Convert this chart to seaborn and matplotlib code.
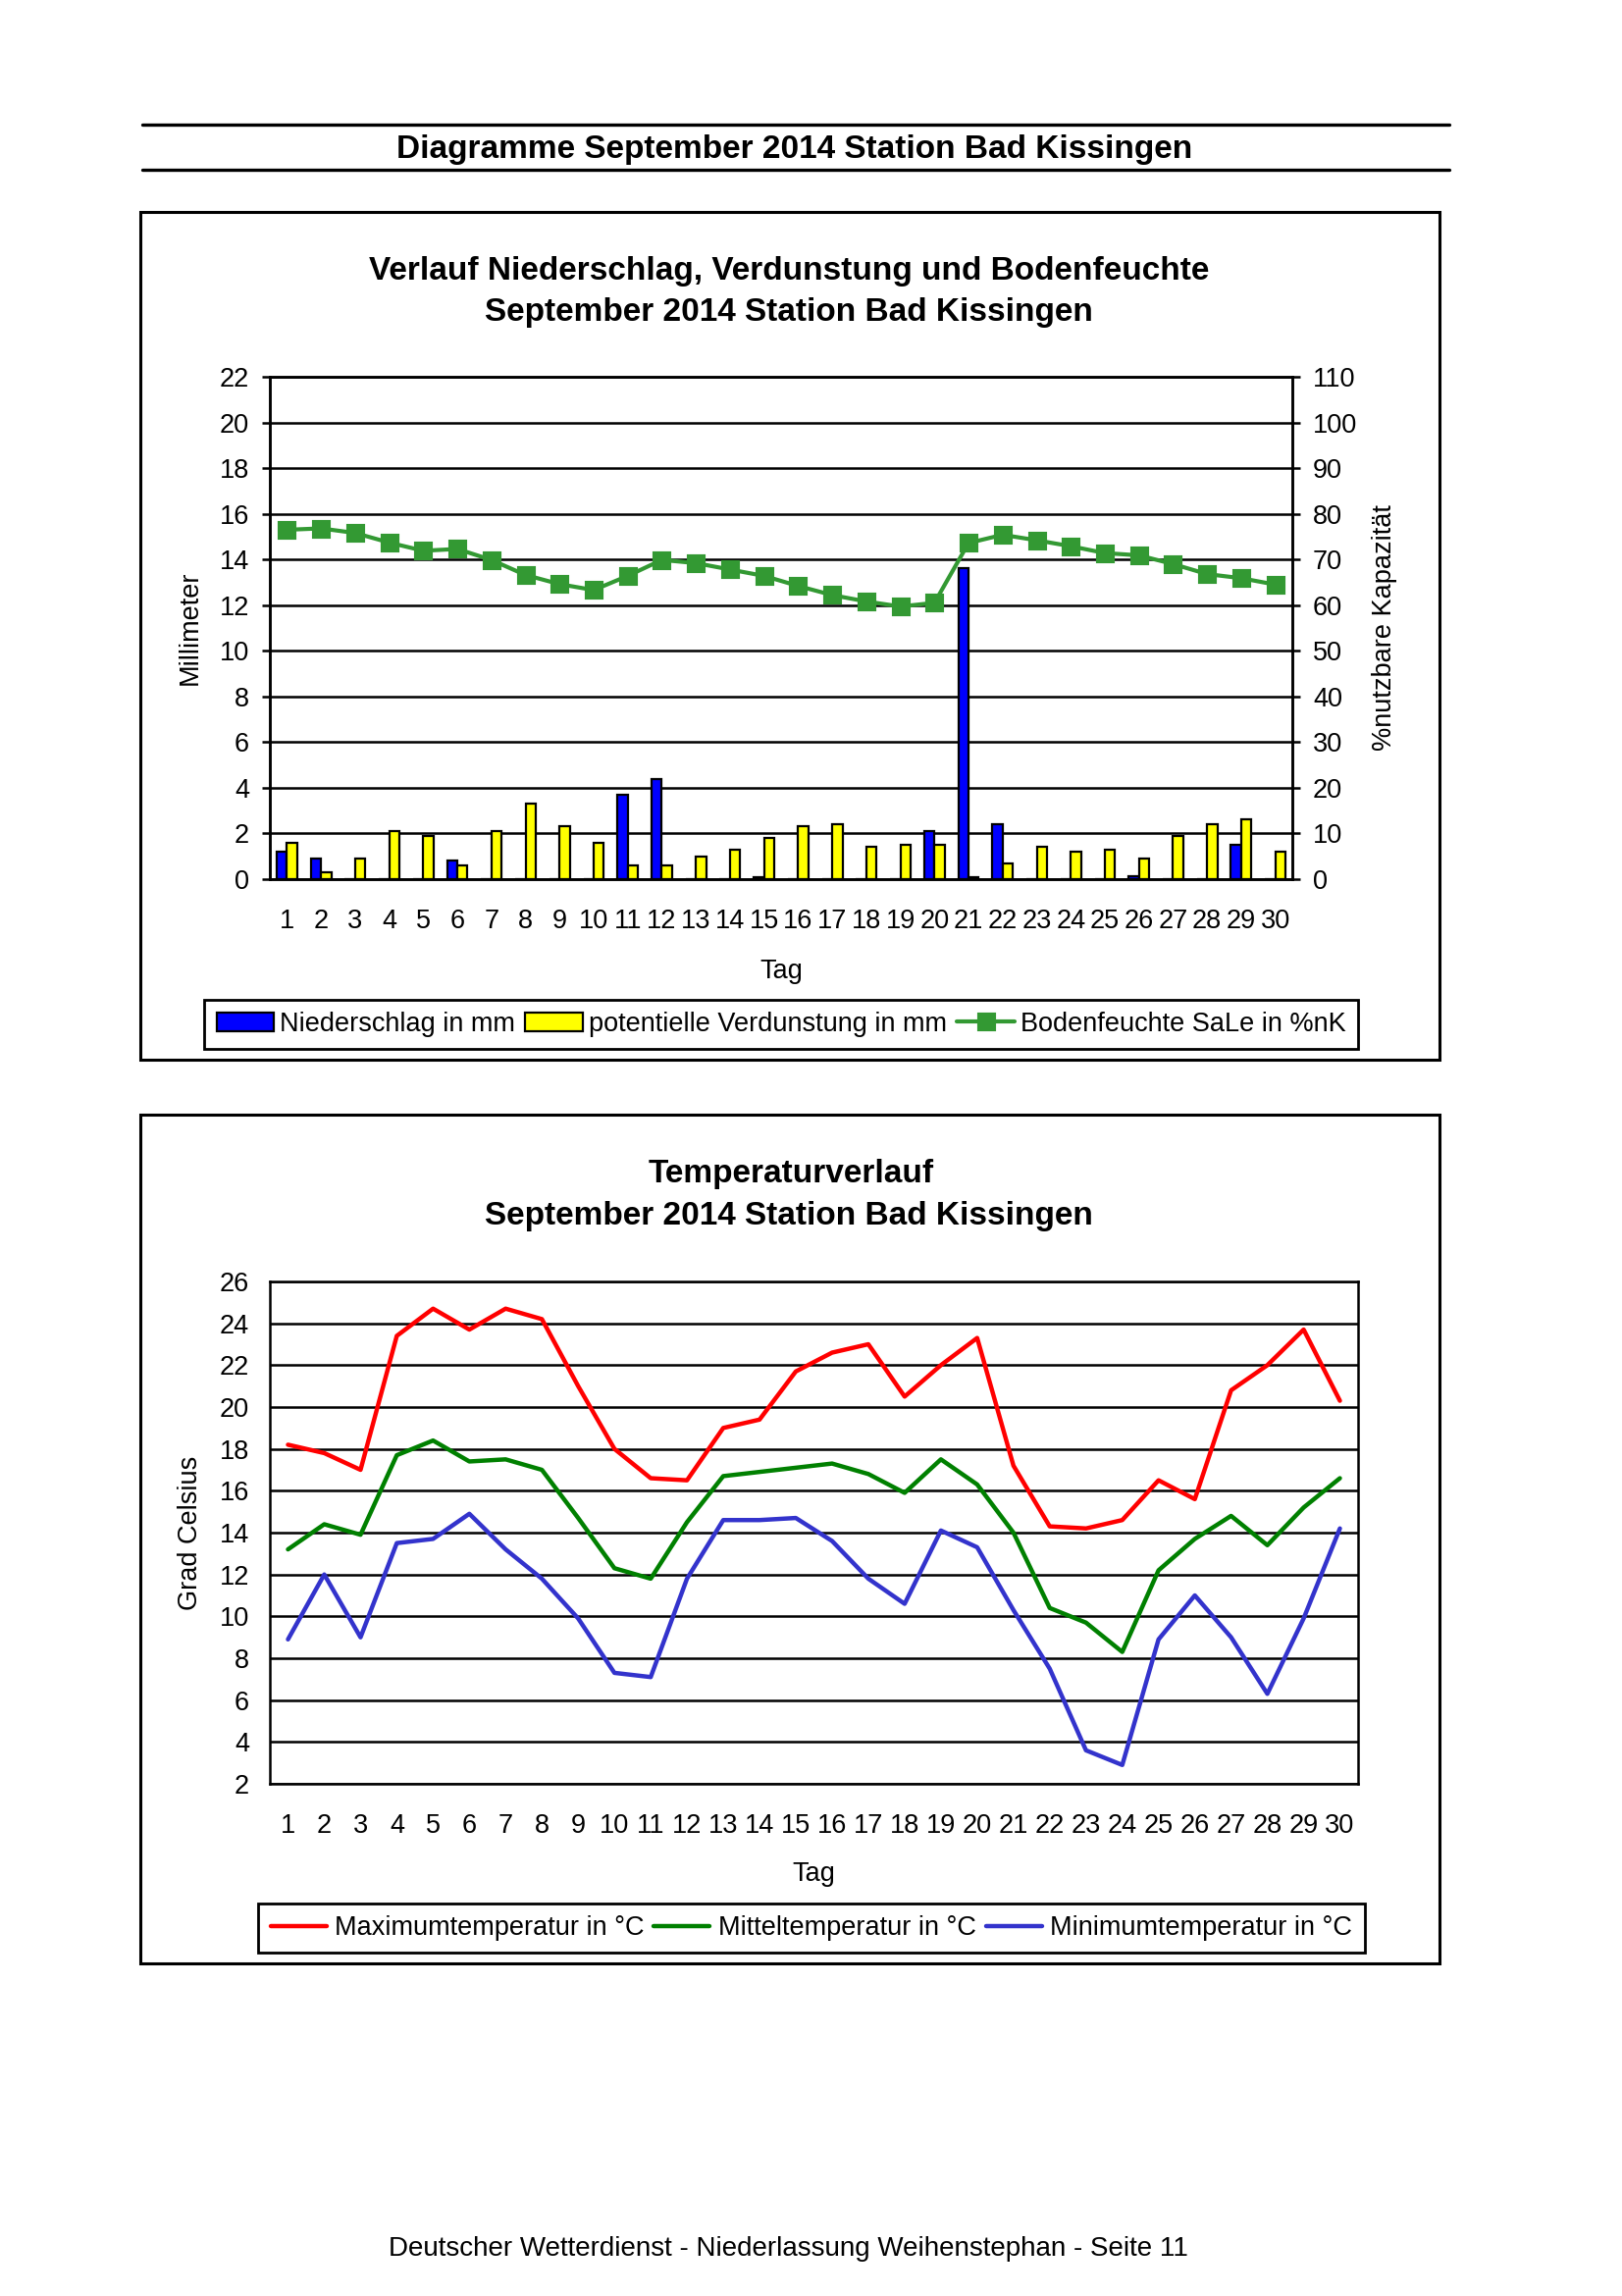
import numpy as np
import pandas as pd
import matplotlib.pyplot as plt
from matplotlib.patches import Rectangle
from matplotlib.lines import Line2D
import seaborn as sns

sns.set_style("white")
plt.rcParams['font.family'] = ['Liberation Sans', 'DejaVu Sans']
plt.rcParams['text.color'] = 'black'
plt.rcParams['axes.labelcolor'] = 'black'
plt.rcParams['xtick.color'] = 'black'
plt.rcParams['ytick.color'] = 'black'

# Werte September 2014, Bad Kissingen
days = list(range(1, 31))
niederschlag = [1.2, 0.9, 0, 0, 0, 0.8, 0, 0, 0, 0, 3.7, 4.4, 0, 0, 0.1,
                0, 0, 0, 0, 2.1, 13.6, 2.4, 0, 0, 0, 0.15, 0, 0, 1.5, 0]
verdunstung = [1.6, 0.3, 0.9, 2.1, 1.9, 0.6, 2.1, 3.3, 2.3, 1.6, 0.6, 0.6, 1.0, 1.3, 1.8,
               2.3, 2.4, 1.4, 1.5, 1.5, 0.1, 0.7, 1.4, 1.2, 1.3, 0.9, 1.9, 2.4, 2.6, 1.2]
bodenfeuchte = [76.5, 76.8, 75.8, 73.7, 71.9, 72.3, 69.9, 66.6, 64.6, 63.3, 66.4, 69.9, 69.2, 67.8, 66.4,
                64.2, 62.2, 60.8, 59.7, 60.5, 73.6, 75.4, 74.2, 72.9, 71.4, 70.9, 69.0, 66.8, 65.9, 64.5]

tmax = [18.2, 17.8, 17.0, 23.4, 24.7, 23.7, 24.7, 24.2, 21.0, 18.0, 16.6, 16.5, 19.0, 19.4, 21.7,
        22.6, 23.0, 20.5, 22.0, 23.3, 17.2, 14.3, 14.2, 14.6, 16.5, 15.6, 20.8, 22.0, 23.7, 20.3]
tmit = [13.2, 14.4, 13.9, 17.7, 18.4, 17.4, 17.5, 17.0, 14.7, 12.3, 11.8, 14.5, 16.7, 16.9, 17.1,
        17.3, 16.8, 15.9, 17.5, 16.3, 14.0, 10.4, 9.7, 8.3, 12.2, 13.7, 14.8, 13.4, 15.2, 16.6]
tmin = [8.9, 12.0, 9.0, 13.5, 13.7, 14.9, 13.2, 11.8, 9.9, 7.3, 7.1, 11.8, 14.6, 14.6, 14.7,
        13.6, 11.8, 10.6, 14.1, 13.3, 10.3, 7.5, 3.6, 2.9, 8.9, 11.0, 9.0, 6.3, 9.9, 14.2]

bar_names = ['Niederschlag in mm', 'potentielle Verdunstung in mm']
soil_name = 'Bodenfeuchte SaLe in %nK'
temp_names = ['Maximumtemperatur in °C', 'Mitteltemperatur in °C', 'Minimumtemperatur in °C']

W, H = 1653, 2340
def fx(x):
    return x / W
def fy(y):
    return 1 - y / H

FS = 19.5
TS = 24
LW = 1.8

fig = plt.figure(figsize=(W / 100, H / 100), dpi=100)

# Kopfzeile
for yy in [127, 173]:
    fig.add_artist(Line2D([fx(145), fx(1477)], [fy(yy), fy(yy)], color='black', lw=2.4))
fig.text(fx(810), fy(161), 'Diagramme September 2014 Station Bad Kissingen',
         ha='center', va='baseline', fontsize=TS, fontweight='bold')

# Rahmen
for top, bottom in [(216, 1080), (1136, 2001)]:
    fig.add_artist(Rectangle((fx(143), fy(bottom)), fx(1467) - fx(143), (bottom - top) / H,
                             fill=False, lw=2.2, edgecolor='black', transform=fig.transFigure))


def style_axis(a):
    for s in a.spines.values():
        s.set_visible(True)
        s.set_color('black')
        s.set_linewidth(LW)
    a.tick_params(axis='both', which='major', direction='out', length=5.8, width=LW,
                  color='black', labelcolor='black', labelsize=FS, pad=9.4)


def day_ticks(a, centers, labels):
    edges = np.arange(len(labels) + 1) - 0.5 + centers[0]
    a.set_xticks(edges)
    a.set_xticklabels([])
    a.set_xticks(centers, labels=labels, minor=True)
    a.tick_params(axis='x', which='minor', length=0, labelsize=FS, labelcolor='black', pad=21.5)


# ---------- Niederschlag / Verdunstung / Bodenfeuchte ----------
ax = fig.add_axes([fx(275), fy(896), fx(1317) - fx(275), (896 - 384) / H])
df_bars = pd.DataFrame({'Tag': days * 2,
                        'Wert': niederschlag + verdunstung,
                        'Reihe': [bar_names[0]] * len(days) + [bar_names[1]] * len(days)})
sns.barplot(data=df_bars, x='Tag', y='Wert', hue='Reihe', palette=['#0000FF', '#FFFF00'],
            saturation=1, width=0.6, edgecolor='black', linewidth=1.6, ax=ax)
leg = ax.get_legend()
bar_handles = list(leg.legend_handles)
bar_labels = [t.get_text() for t in leg.get_texts()]
leg.remove()

ax.set_ylim(0, 22)
ax.set_yticks(np.arange(0, 23, 2))
ax.set_axisbelow(True)
ax.yaxis.grid(True, color='black', lw=LW)
style_axis(ax)

ax2 = ax.twinx()
sns.pointplot(x=days, y=bodenfeuchte, ax=ax2, color='#339933', markers='s',
              errorbar=None, markersize=11, linewidth=3)
soil_line = ax2.lines[0]
ax2.set_ylim(0, 110)
ax2.set_yticks(np.arange(0, 111, 10))
style_axis(ax2)

day_ticks(ax, list(range(len(days))), days)

ax.set_xlabel('Tag', fontsize=FS, va='center')
ax.xaxis.set_label_coords(0.5, (896 - 990) / 512)
ax.set_ylabel('Millimeter', fontsize=FS, va='center')
ax.yaxis.set_label_coords((194 - 275) / 1042, 0.5)
ax2.set_ylabel('%nutzbare Kapazität', fontsize=FS, va='center', rotation=90)
ax2.yaxis.set_label_coords((1411 - 275) / 1042, 0.5)

fig.text(fx(804), fy(285), 'Verlauf Niederschlag, Verdunstung und Bodenfeuchte',
         ha='center', va='baseline', fontsize=TS, fontweight='bold')
fig.text(fx(804), fy(327), 'September 2014 Station Bad Kissingen',
         ha='center', va='baseline', fontsize=TS, fontweight='bold')

leg1 = fig.legend(bar_handles + [soil_line], bar_labels + [soil_name],
                  loc='center', bbox_to_anchor=(fx(796), fy(1044)), bbox_transform=fig.transFigure,
                  ncol=3, fontsize=FS, frameon=True, fancybox=False, edgecolor='black',
                  framealpha=1, handlelength=2.15, handleheight=0.75, handletextpad=0.22,
                  columnspacing=0.4, borderpad=0.45, borderaxespad=0, numpoints=1)
leg1.get_frame().set_linewidth(2)

# ---------- Temperaturverlauf ----------
ax3 = fig.add_axes([fx(275), fy(1818), fx(1384) - fx(275), (1818 - 1306) / H])
df_temp = pd.DataFrame({'Tag': days * 3,
                        'Temperatur': tmax + tmit + tmin,
                        'Reihe': [n for n in temp_names for _ in days]})
sns.lineplot(data=df_temp, x='Tag', y='Temperatur', hue='Reihe',
             palette=['#FF0000', '#008000', '#3333CC'], linewidth=3.2, ax=ax3)
leg = ax3.get_legend()
t_handles = list(leg.legend_handles)
t_labels = [t.get_text() for t in leg.get_texts()]
leg.remove()

ax3.set_xlim(days[0] - 0.5, days[-1] + 0.5)
ax3.set_ylim(2, 26)
ax3.set_yticks(np.arange(2, 27, 2))
ax3.set_axisbelow(True)
ax3.yaxis.grid(True, color='black', lw=LW)
ax3.xaxis.grid(False)
style_axis(ax3)
day_ticks(ax3, days, days)

ax3.set_xlabel('Tag', fontsize=FS, va='center')
ax3.xaxis.set_label_coords(0.5, (1818 - 1910) / 512)
ax3.set_ylabel('Grad Celsius', fontsize=FS, va='center')
ax3.yaxis.set_label_coords((194 - 275) / 1109, 0.5)

fig.text(fx(806), fy(1205), 'Temperaturverlauf',
         ha='center', va='baseline', fontsize=TS, fontweight='bold')
fig.text(fx(804), fy(1248), 'September 2014 Station Bad Kissingen',
         ha='center', va='baseline', fontsize=TS, fontweight='bold')

for h in t_handles:
    h.set_linewidth(3.2)
leg2 = fig.legend(t_handles, t_labels,
                  loc='center', bbox_to_anchor=(fx(827), fy(1965)), bbox_transform=fig.transFigure,
                  ncol=3, fontsize=FS, frameon=True, fancybox=False, edgecolor='black',
                  framealpha=1, handlelength=2.1, handletextpad=0.33,
                  columnspacing=0.35, borderpad=0.45, borderaxespad=0)
leg2.get_frame().set_linewidth(2)

# Fusszeile
fig.text(fx(803), fy(2299), 'Deutscher Wetterdienst - Niederlassung Weihenstephan - Seite 11',
         ha='center', va='baseline', fontsize=20)

fig.savefig('out.png', dpi=100)
